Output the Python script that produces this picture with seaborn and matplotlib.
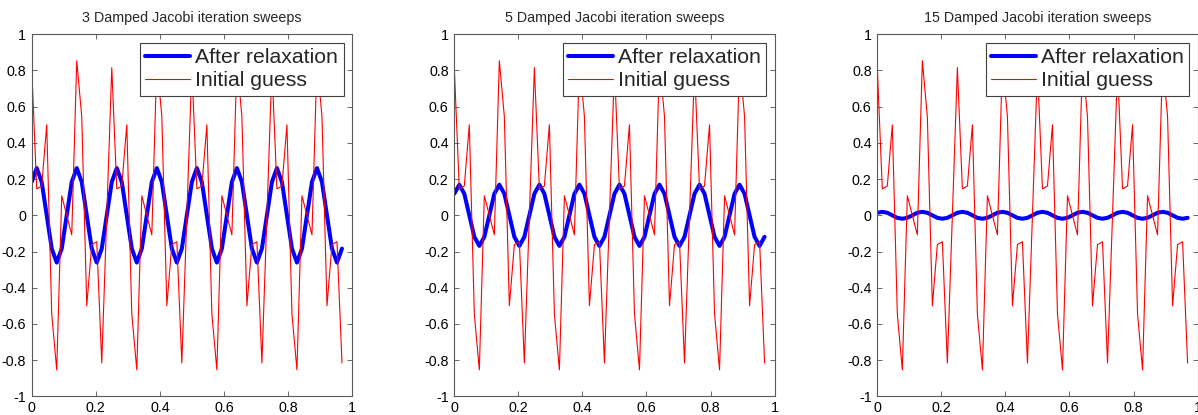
import numpy as np
import pandas as pd
import matplotlib
matplotlib.use("Agg")
import matplotlib.pyplot as plt
import seaborn as sns

# ---- data ----
n_points = 63
grid_h = 1.0 / 64
x_grid = np.arange(n_points) * grid_h

initial_guess = [
    0.816, 0.146, 0.162, 0.500, -0.545, -0.854, 0.108, 0.000,
    -0.108, 0.854, 0.545, -0.500, -0.162, -0.146, -0.816, 0.000,
    0.816, 0.146, 0.162, 0.500, -0.545, -0.854, 0.108, 0.000,
    -0.108, 0.854, 0.545, -0.500, -0.162, -0.146, -0.816, 0.000,
    0.816, 0.146, 0.162, 0.500, -0.545, -0.854, 0.108, 0.000,
    -0.108, 0.854, 0.545, -0.500, -0.162, -0.146, -0.816, 0.000,
    0.816, 0.146, 0.162, 0.500, -0.545, -0.854, 0.108, 0.000,
    -0.108, 0.854, 0.545, -0.500, -0.162, -0.146, -0.816,
]

after_3 = [
    0.184, 0.261, 0.184, 0.000, -0.184, -0.261, -0.184, 0.000,
    0.184, 0.261, 0.184, 0.000, -0.184, -0.261, -0.184, 0.000,
    0.184, 0.261, 0.184, 0.000, -0.184, -0.261, -0.184, 0.000,
    0.184, 0.261, 0.184, 0.000, -0.184, -0.261, -0.184, 0.000,
    0.184, 0.261, 0.184, 0.000, -0.184, -0.261, -0.184, 0.000,
    0.184, 0.261, 0.184, 0.000, -0.184, -0.261, -0.184, 0.000,
    0.184, 0.261, 0.184, 0.000, -0.184, -0.261, -0.184, 0.000,
    0.184, 0.261, 0.184, 0.000, -0.184, -0.261, -0.184,
]

after_5 = [
    0.119, 0.169, 0.119, 0.000, -0.119, -0.169, -0.119, 0.000,
    0.119, 0.169, 0.119, 0.000, -0.119, -0.169, -0.119, 0.000,
    0.119, 0.169, 0.119, 0.000, -0.119, -0.169, -0.119, 0.000,
    0.119, 0.169, 0.119, 0.000, -0.119, -0.169, -0.119, 0.000,
    0.119, 0.169, 0.119, 0.000, -0.119, -0.169, -0.119, 0.000,
    0.119, 0.169, 0.119, 0.000, -0.119, -0.169, -0.119, 0.000,
    0.119, 0.169, 0.119, 0.000, -0.119, -0.169, -0.119, 0.000,
    0.119, 0.169, 0.119, 0.000, -0.119, -0.169, -0.119,
]

after_15 = [
    0.014, 0.019, 0.014, 0.000, -0.014, -0.019, -0.014, 0.000,
    0.014, 0.019, 0.014, 0.000, -0.014, -0.019, -0.014, 0.000,
    0.014, 0.019, 0.014, 0.000, -0.014, -0.019, -0.014, 0.000,
    0.014, 0.019, 0.014, 0.000, -0.014, -0.019, -0.014, 0.000,
    0.014, 0.019, 0.014, 0.000, -0.014, -0.019, -0.014, 0.000,
    0.014, 0.019, 0.014, 0.000, -0.014, -0.019, -0.014, 0.000,
    0.014, 0.019, 0.014, 0.000, -0.014, -0.019, -0.014, 0.000,
    0.014, 0.019, 0.014, 0.000, -0.014, -0.019, -0.014,
]

sweeps = [3, 5, 15]
after_series = [after_3, after_5, after_15]

x_ticks = [0, 0.2, 0.4, 0.6, 0.8, 1]
x_tick_labels = ["0", "0.2", "0.4", "0.6", "0.8", "1"]
y_ticks = [-1, -0.8, -0.6, -0.4, -0.2, 0, 0.2, 0.4, 0.6, 0.8, 1]
y_tick_labels = ["-1", "-0.8", "-0.6", "-0.4", "-0.2", "0", "0.2", "0.4", "0.6", "0.8", "1"]

# ---- style ----
sns.set_style("ticks")
plt.rcParams["font.family"] = ["Liberation Sans", "DejaVu Sans"]

W, H = 1198, 415
fig = plt.figure(figsize=(W / 100, H / 100), dpi=100)
fig.patch.set_facecolor("white")

lefts_px = [31.7, 454.3, 877.3]
width_px = 320.3
top_px, bottom_px = 34.3, 396.3

for left_px, n_sw, after in zip(lefts_px, sweeps, after_series):
    ax = fig.add_axes([left_px / W, (H - bottom_px) / H,
                       width_px / W, (bottom_px - top_px) / H])
    df = pd.DataFrame({"x": x_grid, "after": after, "initial": initial_guess})
    sns.lineplot(data=df, x="x", y="after", ax=ax, color=(0, 0, 1),
                 linewidth=2.9, label="After relaxation", sort=False)
    sns.lineplot(data=df, x="x", y="initial", ax=ax, color=(1, 0, 0),
                 linewidth=0.8, label="Initial guess", sort=False)

    ax.set_xlim(0, 1)
    ax.set_ylim(-1, 1)
    ax.set_xticks(x_ticks)
    ax.set_xticklabels(x_tick_labels)
    ax.set_yticks(y_ticks)
    ax.set_yticklabels(y_tick_labels)
    ax.set_xlabel("")
    ax.set_ylabel("")
    ax.tick_params(direction="in", length=3.5, width=0.6, colors="0.3",
                   labelcolor="black", labelsize=10.3,
                   top=True, right=True, pad=4)
    ax.tick_params(axis="x", pad=3.5)
    for sp in ax.spines.values():
        sp.set_visible(True)
        sp.set_color("0.35")
        sp.set_linewidth(0.8)
    ax.set_title(f"{n_sw} Damped Jacobi iteration sweeps", fontsize=10.3, pad=9)

    leg = ax.legend(loc="upper right", fontsize=15.3, frameon=True, fancybox=False,
                    framealpha=1, edgecolor="0.25", handlelength=2.1,
                    handletextpad=0.25, borderpad=0.25, labelspacing=0.2,
                    borderaxespad=0.4)
    leg.get_frame().set_linewidth(0.8)

fig.savefig("out.png", dpi=100)
